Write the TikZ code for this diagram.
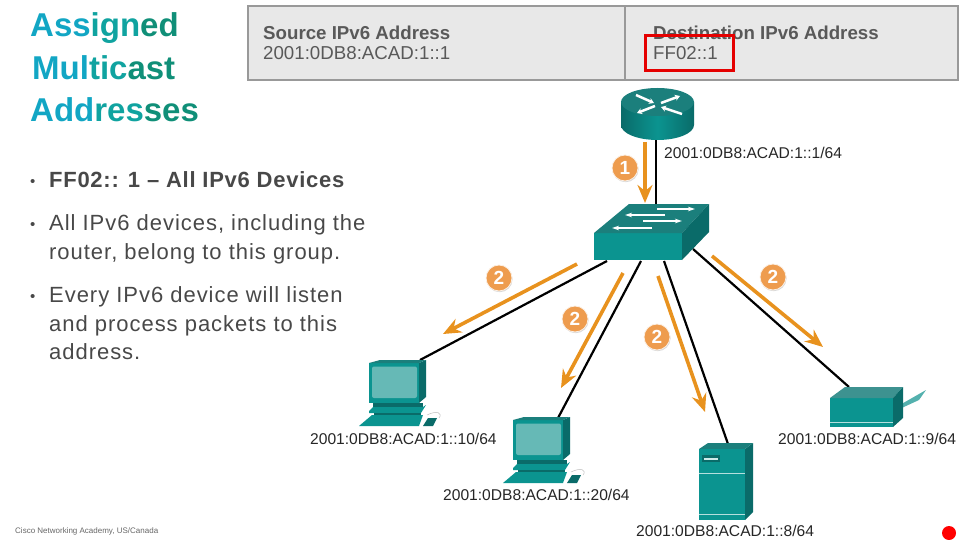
\documentclass[tikz,border=0pt]{standalone}
\usepackage{fontspec}
\usepackage{xcolor}
\setmainfont{Liberation Sans}
\newfontfamily\bodyfont[LetterSpace=4.4]{Liberation Sans}
\newfontfamily\leadfont[LetterSpace=3.3]{Liberation Sans}
\usetikzlibrary{arrows.meta, positioning, shadows}
\definecolor{tealfront}{HTML}{0B9490}
\definecolor{tealtop}{HTML}{1B7F7C}
\definecolor{tealside}{HTML}{0A6B69}
\definecolor{tealscreen}{HTML}{66B9B6}
\definecolor{flow}{HTML}{E8921E}
\definecolor{badgefill}{HTML}{EE9C4E}
\definecolor{bodyink}{HTML}{484848}
\definecolor{titleA}{HTML}{12A6C4}
\definecolor{titleB}{HTML}{10A3A0}
\definecolor{titleC}{HTML}{108F78}
\tikzset{
  pcicon/.pic={
    \fill[tealside] (50,0) -- (57,-3) -- (57,34) -- (50,40) -- cycle;
    \fill[tealfront] (0,0) rectangle (50,40);
    \fill[tealtop] (0,0) -- (11,-3) -- (57,-3) -- (50,0) -- cycle;
    \fill[tealscreen, rounded corners=2pt] (3,3.5) rectangle (48,35);
    \fill[tealside] (4,40) rectangle (54,44);
    \fill[tealfront] (4,44) -- (0,48) -- (0,50) -- (52,50) -- (57,42) -- (54,44) -- cycle;
    \fill[tealside] (5,50) rectangle (52,52);
    \fill[tealfront] (-10,63) -- (3,52) -- (54,52) -- (50,63) -- cycle;
    \fill[tealside] (54,63) -- (59,55) -- (68,55) -- (64,63) -- cycle;
    \draw[black!25, line width=0.5pt] (58,52) .. controls (68,47) and (74,50) .. (70,55);
  },
  flowarrow/.style={draw=flow, line width=3.6pt, -{Stealth[length=18pt, width=15pt, inset=6pt]}},
  cable/.style={draw=black, line width=2.2pt},
  routerarrow/.style={white, line width=2.5pt, -{Stealth[length=5pt, width=6pt]}},
  switcharrow/.style={white, line width=1.3pt, -{Stealth[length=7pt, width=4.5pt]}},
  badge/.style={circle, fill=badgefill, draw=white!85!badgefill, line width=0.8pt, minimum size=26pt, inner sep=0pt,
    text=white, font=\fontsize{19}{19}\selectfont\bfseries, drop shadow={shadow xshift=0.6pt, shadow yshift=-1.2pt, opacity=0.3}},
  addr/.style={font=\fontsize{15.6}{18}\selectfont, text=black!85, anchor=base west, inner sep=0pt},
  head/.style={font=\fontsize{18.7}{22}\selectfont, text=black!65, anchor=base west, inner sep=0pt},
  item/.style={font=\bodyfont\fontsize{22}{26}\selectfont, text=bodyink, anchor=base west, inner sep=0pt},
  leaditem/.style={font=\leadfont\fontsize{22}{26}\selectfont\bfseries, text=bodyink, anchor=base west, inner sep=0pt},
  dotitem/.style={font=\fontsize{15}{18}\selectfont, text=bodyink, anchor=base west, inner sep=0pt},
  heading/.style={font=\fontsize{33}{36}\selectfont\bfseries, anchor=base west, inner sep=0pt}
}

\begin{document}
\begin{tikzpicture}[x=1pt, y=-1pt]
  \useasboundingbox (0,0) rectangle (960,540);

  % title
  \node[heading] (title1) at (30,37) {\textcolor{titleA}{Ass}\textcolor{titleB}{ign}\textcolor{titleC}{ed}};
  \node[heading] (title2) at (32,80) {\textcolor{titleA}{Mul}\textcolor{titleB}{tic}\textcolor{titleC}{ast}};
  \node[heading] (title3) at (30,122) {\textcolor{titleA}{Add}\textcolor{titleB}{res}\textcolor{titleC}{ses}};

  % bullets
  \node[dotitem] (dot1) at (30,186) {•};
  \node[leaditem] (line1) at (49,187) {FF02:: 1 – All IPv6 Devices};
  \node[dotitem] (dot2) at (30,229) {•};
  \node[item] (line2) at (49,230) {All IPv6 devices, including the};
  \node[item] (line3) at (49,259) {router, belong to this group.};
  \node[dotitem] (dot3) at (30,301) {•};
  \node[item] (line4) at (49,302) {Every IPv6 device will listen};
  \node[item] (line5) at (49,331) {and process packets to this};
  \node[item] (line6) at (49,359) {address.};
  \node[font=\fontsize{8}{10}\selectfont, text=black!60, anchor=base west, inner sep=0pt] (footer) at (15,533) {Cisco Networking Academy, US/Canada};

  % address table
  \draw[draw=black!40, line width=2.5pt, fill=black!9] (248,6) rectangle (958,80);
  \draw[draw=black!40, line width=2.5pt] (625,6) -- (625,80);
  \node[head] (srchead) at (263,40) {\textbf{Source IPv6 Address}};
  \node[head] (srcaddr) at (263,60) {2001:0DB8:ACAD:1::1};
  \node[head] (dsthead) at (653,40) {\textbf{Destination IPv6 Address}};
  \node[head] (dstaddr) at (653,60) {FF02::1};
  \draw[draw=red!90!black, line width=3pt] (645,36) rectangle (733,71);

  % cable ends
  \coordinate (routerS) at (656,140);
  \coordinate (switchN) at (656,205);
  \coordinate (switchA) at (607,261);
  \coordinate (switchB) at (641,261);
  \coordinate (switchC) at (664,261);
  \coordinate (switchD) at (693,249);
  \coordinate (pcaN) at (420,360);
  \coordinate (pcbN) at (558,418);
  \coordinate (serverN) at (728,444);
  \coordinate (printerN) at (849,387);

  \draw[cable] (routerS) -- (switchN);
  \draw[cable] (switchA) -- (pcaN);
  \draw[cable] (switchB) -- (pcbN);
  \draw[cable] (switchC) -- (serverN);
  \draw[cable] (switchD) -- (printerN);

  % router
  \shade[left color=tealside, right color=tealside, middle color=tealfront] (621,102) -- (621,125) arc[start angle=180, end angle=0, x radius=36.5, y radius=15] -- (694,102) -- cycle;
  \fill[tealtop] (657.5,102) ellipse[x radius=36.5, y radius=14];
  \draw[routerarrow] (636,95) -- (654,103);
  \draw[routerarrow] (682,114) -- (661,107);
  \draw[routerarrow] (661,103) -- (680,96);
  \draw[routerarrow] (655,106) -- (637,113);
  \node[addr] (routerlabel) at (664,159) {2001:0DB8:ACAD:1::1/64};

  % switch
  \fill[tealfront] (594,233) rectangle (682,260);
  \fill[tealtop] (594,233) -- (629,204) -- (709,204) -- (682,233) -- cycle;
  \fill[tealside] (682,233) -- (709,204) -- (709,232) -- (682,260) -- cycle;
  \draw[switcharrow] (657,209) -- (695,209);
  \draw[switcharrow] (665,215) -- (625,215);
  \draw[switcharrow] (643,221) -- (682,221);
  \draw[switcharrow] (652,228) -- (612,228);

  % end devices
  \pic at (369,363) {pcicon};
  \pic at (513,420) {pcicon};
  \node[addr] (pcalabel) at (310,444) {2001:0DB8:ACAD:1::10/64};
  \node[addr] (pcblabel) at (443,500) {2001:0DB8:ACAD:1::20/64};

  \fill[tealside] (745,449) -- (753,443) -- (753,512) -- (745,520) -- cycle;
  \fill[tealtop] (699,449) -- (708,443) -- (753,443) -- (745,449) -- cycle;
  \fill[tealfront] (699,449) rectangle (745,520);
  \draw[white!70!tealfront, line width=0.7pt] (699,473) -- (745,473);
  \draw[white!70!tealfront, line width=0.7pt] (699,514) -- (745,514);
  \fill[tealside] (702,455) rectangle (720,462);
  \fill[white!80!tealfront] (704,457.5) rectangle (718,459.5);
  \node[addr] (serverlabel) at (636,536) {2001:0DB8:ACAD:1::8/64};

  \fill[tealscreen!80!tealfront] (891,410) -- (926,390) -- (919,400) -- (893,412) -- cycle;
  \fill[tealfront] (830,398) rectangle (893,427);
  \fill[tealtop!85!white] (830,398) -- (845,387) -- (903,387) -- (893,398) -- cycle;
  \fill[tealside] (893,398) -- (903,387) -- (903,418) -- (893,427) -- cycle;
  \draw[white!70!tealfront, line width=0.7pt] (830,422) -- (893,422);
  \node[addr] (printerlabel) at (778,444) {2001:0DB8:ACAD:1::9/64};

  % flows
  \coordinate (flow1s) at (645,142);
  \coordinate (flow1e) at (645,203);
  \coordinate (flow2s) at (577,264);
  \coordinate (flow2e) at (443,334);
  \coordinate (flow3s) at (623,273);
  \coordinate (flow3e) at (561,388);
  \coordinate (flow4s) at (658,276);
  \coordinate (flow4e) at (705,412);
  \coordinate (flow5s) at (712,256);
  \coordinate (flow5e) at (823,347);
  \draw[flowarrow] (flow1s) -- (flow1e);
  \draw[flowarrow] (flow2s) -- (flow2e);
  \draw[flowarrow] (flow3s) -- (flow3e);
  \draw[flowarrow] (flow4s) -- (flow4e);
  \draw[flowarrow] (flow5s) -- (flow5e);

  \node[badge] (badge1) at (625,168) {1};
  \node[badge] (badge2) at (499,278) {2};
  \node[badge] (badge3) at (575,319) {2};
  \node[badge] (badge4) at (657,337) {2};
  \node[badge] (badge5) at (773,277) {2};

  % slide marker
  \node[circle, fill=red, minimum size=14pt, inner sep=0pt] (marker) at (949,533) {};
\end{tikzpicture}
\end{document}
